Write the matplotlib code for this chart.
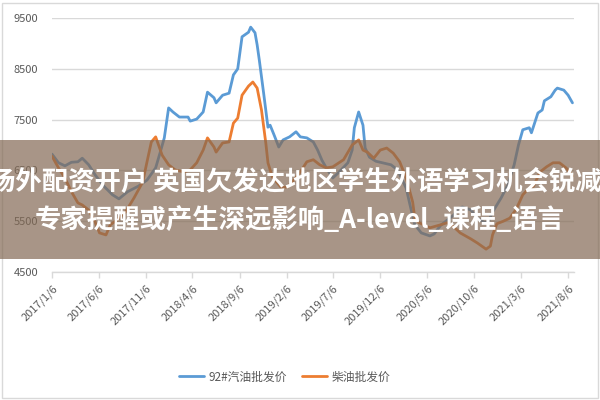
import numpy as np
import matplotlib
matplotlib.use('Agg')
import matplotlib.pyplot as plt
from matplotlib.patches import Rectangle

plt.rcParams['font.family'] = ['Noto Sans CJK SC', 'DejaVu Sans']

# ---------------- data ----------------
start_date = np.datetime64('2017-01-06')   # first weekly observation

gas_weeks = [0, 3, 6, 9, 12, 14, 17, 20, 24, 28, 31, 35, 40, 44, 48, 50, 52, 54, 56, 59,
             63, 64, 67, 70, 72, 75, 76, 79, 82, 84, 86, 88, 91, 92, 94, 95, 96, 98, 100, 101,
             103, 105, 107, 110, 113, 115, 118, 121, 123, 125, 127, 130, 133, 137, 139, 140, 142, 144, 145, 147,
             150, 153, 157, 160, 164, 166, 168, 171, 175, 177, 180, 183, 186, 188, 190, 194, 197, 200, 202, 204,
             208, 211, 214, 216, 218, 221, 222, 225, 227, 228, 231, 233, 234, 237, 239, 241]
gas_values = [6820, 6650, 6590, 6660, 6670, 6740, 6610, 6410, 6190, 6020, 5940, 6080, 6190, 6310, 6550, 6840, 7140, 7730, 7650, 7550,
              7550, 7470, 7510, 7650, 8040, 7930, 7830, 7980, 8020, 8380, 8500, 9130, 9220, 9320, 9210, 8970, 8670, 8020, 7350, 7390,
              7180, 6960, 7100, 7160, 7260, 7160, 7140, 7060, 6900, 6700, 6550, 6350, 6470, 6650, 6900, 7340, 7650, 7390, 6940, 6760,
              6680, 6650, 6610, 6510, 6150, 5780, 5430, 5270, 5210, 5250, 5420, 5520, 5620, 5740, 5780, 5720, 5560, 5480, 5480, 5680,
              5960, 6210, 6610, 7000, 7300, 7340, 7240, 7630, 7690, 7870, 7950, 8080, 8120, 8080, 7980, 7830]

diesel_weeks = [0, 3, 6, 9, 12, 14, 17, 20, 22, 25, 27, 30, 34, 38, 42, 44, 46, 48, 49, 51,
                54, 57, 61, 64, 67, 70, 72, 75, 76, 79, 82, 84, 86, 88, 91, 93, 95, 97, 99, 100,
                102, 106, 109, 112, 115, 118, 121, 124, 127, 130, 135, 139, 142, 144, 146, 149, 152, 155, 158, 161,
                164, 167, 168, 170, 175, 180, 183, 186, 189, 194, 197, 201, 203, 204, 206, 209, 212, 215, 218, 220,
                223, 226, 229, 232, 235, 238, 240, 241]
diesel_values = [6780, 6550, 6350, 6080, 5860, 5820, 5720, 5480, 5270, 5230, 5430, 5520, 5680, 5960, 6270, 6670, 7060, 7160, 7040, 6800,
                 6610, 6510, 6470, 6510, 6650, 6900, 7140, 6960, 6860, 7040, 7060, 7430, 7530, 7980, 8160, 8240, 8120, 7690, 7040, 6650,
                 6370, 6170, 6170, 6310, 6470, 6670, 6710, 6610, 6550, 6570, 6710, 7000, 7100, 6900, 6860, 6740, 6900, 6940, 6840, 6670,
                 6350, 5880, 5560, 5470, 5370, 5430, 5470, 5390, 5270, 5150, 5070, 4950, 5010, 5230, 5450, 5500, 5560, 5740, 6020, 6110,
                 6190, 6470, 6570, 6650, 6650, 6550, 6450, 6390]

series_names = ['92#汽油批发价', '柴油批发价']
series_colors = ['#5B9BD5', '#ED7D31']

tick_dates = ['2017-01-06', '2017-06-06', '2017-11-06', '2018-04-06', '2018-09-06', '2019-02-06',
              '2019-07-06', '2019-12-06', '2020-05-06', '2020-10-06', '2021-03-06', '2021-08-06']
tick_labels = ['2017/1/6', '2017/6/6', '2017/11/6', '2018/4/6', '2018/9/6', '2019/2/6',
               '2019/7/6', '2019/12/6', '2020/5/6', '2020/10/6', '2021/3/6', '2021/8/6']
y_ticks = [4500, 5500, 6500, 7500, 8500, 9500]

title_lines = ['场外配资开户 英国欠发达地区学生外语学习机会锐减',
               '专家提醒或产生深远影响_A-level_课程_语言']

# ---------------- figure ----------------
W, H = 600, 400
fig = plt.figure(figsize=(6, 4), dpi=100)
fig.patch.set_facecolor('white')

# chart-area border
fig.add_artist(Rectangle((1.5 / W, 2.5 / H), 596 / W, 395 / H, transform=fig.transFigure,
                         fill=False, edgecolor='#d9d9d9', linewidth=1.0, zorder=0))

ax = fig.add_axes([52 / W, 1 - 272 / H, 522 / W, 254 / H])

gas_dates = start_date + np.array(gas_weeks) * np.timedelta64(7, 'D')
diesel_dates = start_date + np.array(diesel_weeks) * np.timedelta64(7, 'D')

ax.plot(gas_dates, gas_values, color=series_colors[0], lw=2.0, label=series_names[0],
        solid_joinstyle='round', solid_capstyle='round', zorder=3)
ax.plot(diesel_dates, diesel_values, color=series_colors[1], lw=2.0, label=series_names[1],
        solid_joinstyle='round', solid_capstyle='round', zorder=3)

ax.set_xlim(start_date, start_date + np.timedelta64(1692, 'D'))
ax.set_ylim(4500, 9500)
ax.set_yticks(y_ticks)
ax.set_yticklabels([str(v) for v in y_ticks])
ax.grid(axis='y', color='#d9d9d9', lw=1.0)
ax.set_axisbelow(True)

ax.set_xticks(np.array(tick_dates, dtype='datetime64[D]'))
ax.set_xticklabels(tick_labels, rotation=45, ha='right', va='top', rotation_mode='anchor')

for s in ['top', 'right', 'left']:
    ax.spines[s].set_visible(False)
ax.spines['bottom'].set_color('#d9d9d9')
ax.spines['bottom'].set_linewidth(1.0)

ax.tick_params(axis='y', length=0, pad=10, labelsize=8, labelcolor='#595959')
ax.tick_params(axis='x', length=4, width=1, color='#d9d9d9', direction='out', pad=4,
               labelsize=8, labelcolor='#595959')

fig.legend(loc='center', bbox_to_anchor=(285 / W, 1 - 377 / H), ncol=2, frameon=False,
           fontsize=8.5, handlelength=2.1, handletextpad=0.4, columnspacing=1.3,
           labelcolor='#595959')

# overlay band with title text
fig.add_artist(Rectangle((0, 1 - 259 / H), 1, 119 / H, transform=fig.transFigure,
                         facecolor=(131 / 255, 105 / 255, 84 / 255), alpha=0.7,
                         edgecolor='none', zorder=10))
fig.text(0.492, 1 - 182 / H, title_lines[0], ha='center', va='center', color='white',
         fontsize=19, fontweight='bold', zorder=11)
fig.text(0.5, 1 - 220 / H, title_lines[1], ha='center', va='center', color='white',
         fontsize=19, fontweight='bold', zorder=11)

fig.savefig('out.png', dpi=100)
